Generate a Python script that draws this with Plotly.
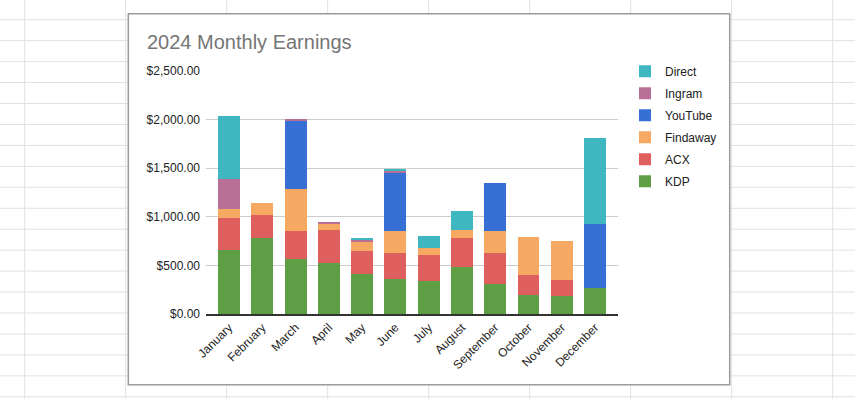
import plotly.graph_objects as go

months = ["January", "February", "March", "April", "May", "June", "July",
          "August", "September", "October", "November", "December"]
kdp = [658, 777, 570, 528, 413, 358, 338, 481, 311, 195, 188, 270]
acx = [328, 239, 283, 334, 232, 266, 266, 296, 313, 205, 160, 0]
findaway = [92, 123, 430, 72, 92, 226, 71, 92, 226, 389, 399, 0]
youtube = [0, 0, 706, 0, 0, 604, 0, 0, 502, 0, 0, 651]
ingram = [307, 0, 20, 10, 23, 20, 0, 0, 0, 0, 0, 0]
direct = [655, 0, 0, 0, 24, 10, 123, 195, 0, 0, 0, 891]

series = [
    ("KDP", kdp, "#5e9e44"),
    ("ACX", acx, "#df5e5e"),
    ("Findaway", findaway, "#f6a962"),
    ("YouTube", youtube, "#3670d4"),
    ("Ingram", ingram, "#b97096"),
    ("Direct", direct, "#3fb7c1"),
]

W, H = 855, 399
PL, PR, PT, PB = 206, 618, 70.7, 314.3
pw, ph = PR - PL, PB - PT


def px(x):
    return (x - PL) / pw


def py(y):
    return (PB - y) / ph


fig = go.Figure()
n = len(series)
for i, (name, vals, color) in enumerate(series):
    fig.add_trace(go.Bar(
        x=months, y=vals, name=name, marker_color=color,
        marker_line_width=0, width=0.66, legendgroup=name,
        legendrank=n - i,
    ))

shapes = []
# spreadsheet grid behind the chart
for k in range(9):
    x = 24.7 + 101 * k
    shapes.append(dict(type="line", xref="paper", yref="paper",
                       x0=px(x), x1=px(x), y0=py(-5), y1=py(H + 5),
                       line=dict(color="#e1e1e1", width=1), layer="below"))
for k in range(19):
    y = 19.3 + 21 * k
    shapes.append(dict(type="line", xref="paper", yref="paper",
                       x0=px(-5), x1=px(W + 5), y0=py(y), y1=py(y),
                       line=dict(color="#e1e1e1", width=1), layer="below"))
# chart card
shapes.append(dict(type="rect", xref="paper", yref="paper",
                   x0=px(128.3), x1=px(729.7), y0=py(385.3), y1=py(13.3),
                   fillcolor="white", line=dict(color="#9b9b9b", width=1.5),
                   layer="below"))

fig.update_layout(
    width=W, height=H,
    margin=dict(l=PL, r=W - PR, t=PT, b=H - PB, pad=0, autoexpand=False),
    paper_bgcolor="white",
    plot_bgcolor="rgba(0,0,0,0)",
    barmode="stack",
    font=dict(family="Liberation Sans, Arial, sans-serif", size=12, color="#222222"),
    title=dict(text="2024 Monthly Earnings", xref="container", yref="container",
               x=147 / W, xanchor="left", y=1 - 41.5 / H, yanchor="middle",
               font=dict(size=20, color="#757575")),
    shapes=shapes,
    showlegend=True,
    legend=dict(x=px(625), xanchor="left", y=py(56.5), yanchor="top",
                traceorder="grouped", tracegroupgap=3,
                font=dict(size=12, color="#222222"),
                bgcolor="rgba(0,0,0,0)"),
    xaxis=dict(range=[-0.69, 11.69], tickangle=-45, showgrid=False,
               showline=True, linecolor="#333333", linewidth=1.5,
               ticks="", tickfont=dict(size=12, color="#222222"),
               fixedrange=True),
    yaxis=dict(range=[0, 2500], dtick=500, tickprefix="$", tickformat=",.2f",
               showgrid=True, gridcolor="#cccccc", gridwidth=1,
               zeroline=False, showline=False, ticks="",
               ticklabelstandoff=5,
               tickfont=dict(size=12, color="#222222"), fixedrange=True),
)

fig.write_html("out.html", config={"displayModeBar": False},
               post_script="document.body.style.margin='0';")
